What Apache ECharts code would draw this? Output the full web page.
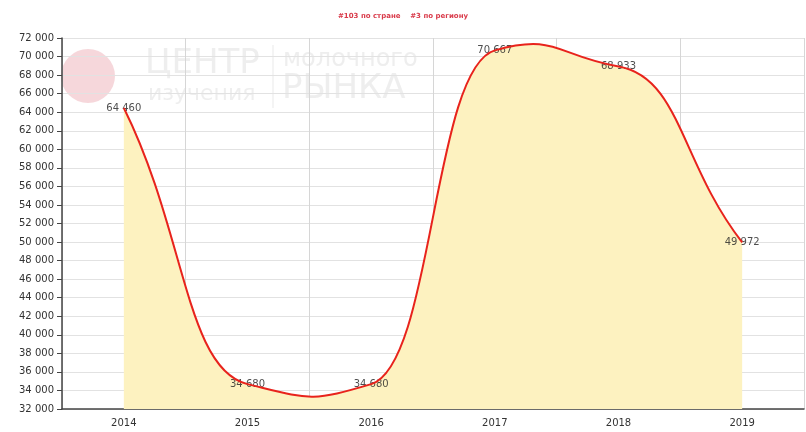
<!DOCTYPE html>
<html>
<head>
<meta charset="utf-8">
<script src="https://cdn.jsdelivr.net/npm/echarts@6/dist/echarts.min.js"></script>
<style>
  html, body { margin: 0; padding: 0; background: #fff; }
  #chart { width: 806px; height: 432px; }
</style>
</head>
<body>
<div id="chart"></div>
<script>
// годы и значения
var years = ['2014', '2015', '2016', '2017', '2018', '2019'];
var values = [64460, 34680, 34680, 70667, 68933, 49972];
var titleText = '#103 по стране    #3 по региону';

// 64460 -> "64 460"
function fmt(v) {
  return String(v).replace(/\B(?=(\d{3})+(?!\d))/g, ' ');
}

// сглаженная кривая как в исходнике (безье, ручки по x = половина шага)
function curvePath(pts) {
  var n = pts.length;
  var k = 0.055, kEnd = 0.45;
  var d = 'M' + pts[0][0] + ' ' + pts[0][1];
  for (var i = 0; i < n - 1; i++) {
    var p0 = pts[i], p1 = pts[i + 1];
    var hx = (p1[0] - p0[0]) / 2;
    var dy0 = i === 0 ? kEnd * (p1[1] - p0[1]) : k * (p1[1] - pts[i - 1][1]);
    var dy1 = i === n - 2 ? kEnd * (p1[1] - p0[1]) : k * (pts[i + 2][1] - p0[1]);
    d += ' C' + (p0[0] + hx) + ' ' + (p0[1] + dy0) + ' ' +
      (p1[0] - hx) + ' ' + (p1[1] - dy1) + ' ' + p1[0] + ' ' + p1[1];
  }
  return d;
}

// area = true -> заливка до оси, иначе только линия
function curveSeries(area, z) {
  return {
    type: 'custom',
    data: values,
    silent: true,
    renderItem: function (params, api) {
      if (params.dataIndex !== 0) return null;
      var pts = values.map(function (v, i) { return api.coord([i, v]); });
      var line = curvePath(pts);
      if (!area) {
        return { type: 'path', shape: { pathData: line }, style: { fill: null, stroke: '#e8231c', lineWidth: 2 } };
      }
      var base = api.coord([0, 32000])[1];
      var d = line + ' L' + pts[pts.length - 1][0] + ' ' + base +
        ' L' + pts[0][0] + ' ' + base + ' Z';
      return { type: 'path', shape: { pathData: d }, style: { fill: '#fdf2c0', stroke: null } };
    },
    z: z
  };
}

var chart = echarts.init(document.getElementById('chart'));

var option = {
  backgroundColor: '#ffffff',
  animation: false,
  textStyle: { fontFamily: 'DejaVu Sans' },
  title: {
    text: titleText,
    left: 'center',
    top: 8,
    textStyle: { color: '#d93a4a', fontSize: 7, fontWeight: 'bold', fontFamily: 'DejaVu Sans' }
  },
  grid: { left: 62, right: 2, top: 38, bottom: 23, containLabel: false },
  graphic: [
    // водяной знак
    { type: 'circle', shape: { cx: 88, cy: 76, r: 27 }, style: { fill: 'rgba(228,140,152,0.35)' }, z: 0 },
    { type: 'text', left: 145, top: 47, style: { text: 'ЦЕНТР', fontSize: 34, fontFamily: 'DejaVu Sans', fill: 'rgba(200,200,200,0.3)' }, z: 0 },
    { type: 'text', left: 148, top: 83, style: { text: 'изучения', fontSize: 22, fontFamily: 'DejaVu Sans', fill: 'rgba(200,200,200,0.3)' }, z: 0 },
    { type: 'line', shape: { x1: 273, y1: 45, x2: 273, y2: 108 }, style: { stroke: 'rgba(200,200,200,0.4)', lineWidth: 1 }, z: 0 },
    { type: 'text', left: 283, top: 48, style: { text: 'молочного', fontSize: 24, fontFamily: 'DejaVu Sans', fill: 'rgba(200,200,200,0.3)' }, z: 0 },
    { type: 'text', left: 282, top: 72, style: { text: 'РЫНКА', fontSize: 34, fontFamily: 'DejaVu Sans', fill: 'rgba(200,200,200,0.3)' }, z: 0 }
  ],
  xAxis: {
    type: 'category',
    data: years,
    boundaryGap: true,
    axisLine: { lineStyle: { color: '#444', width: 1.5 } },
    axisTick: { alignWithLabel: true, length: 5, lineStyle: { color: '#444' } },
    axisLabel: { color: '#333', fontSize: 10, margin: 9 },
    splitLine: { show: true, lineStyle: { color: '#d6d6d6' } }
  },
  yAxis: {
    type: 'value',
    min: 32000,
    max: 72000,
    interval: 2000,
    axisLine: { show: true, lineStyle: { color: '#444', width: 1.5 } },
    axisTick: { show: true, length: 5, lineStyle: { color: '#444' } },
    axisLabel: { color: '#333', fontSize: 10, margin: 8, formatter: fmt },
    splitLine: { lineStyle: { color: '#e2e2e2' } }
  },
  series: [
    curveSeries(true, 1),
    {
      // подписи значений
      type: 'scatter',
      data: values,
      symbolSize: 1,
      itemStyle: { color: 'rgba(0,0,0,0)' },
      label: {
        show: true,
        position: 'inside',
        color: '#222',
        fontSize: 10,
        formatter: function (p) { return fmt(p.value); }
      },
      z: 2
    },
    curveSeries(false, 3)
  ]
};

chart.setOption(option);
</script>
</body>
</html>
